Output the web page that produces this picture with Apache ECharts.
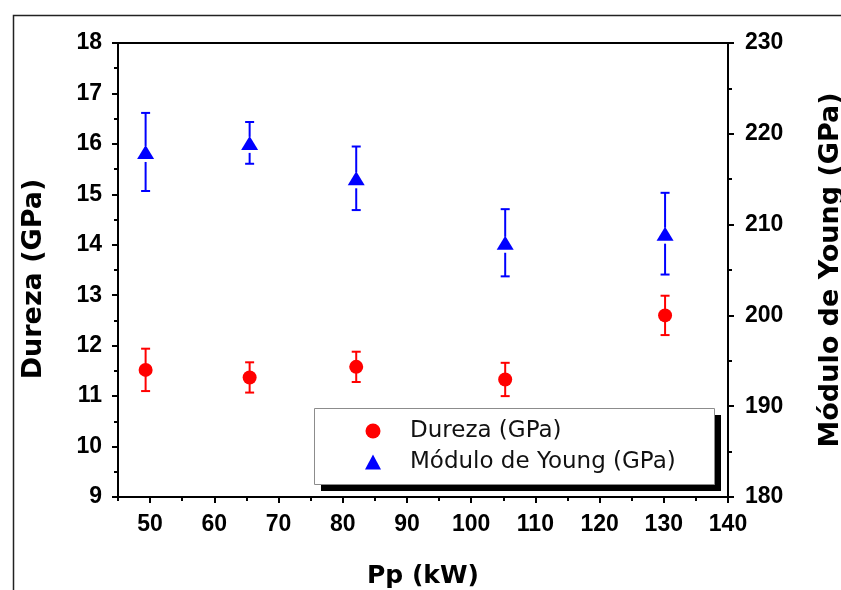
<!DOCTYPE html>
<html>
<head>
<meta charset="utf-8">
<script src="https://cdn.jsdelivr.net/npm/echarts@6/dist/echarts.min.js"></script>
<style>
html,body{margin:0;padding:0;background:#fff;}
#chart{width:841px;height:590px;}
</style>
</head>
<body>
<div id="chart"></div>
<script>
// ---- data ----
var pp = [49.3, 65.5, 82.1, 105.3, 130.2];
var dureza = [11.52, 11.37, 11.58, 11.33, 12.60];
var durezaErr = [0.42, 0.30, 0.30, 0.33, 0.39];
var young = [218.0, 219.0, 215.1, 208.0, 209.0];
var youngErr = [4.3, 2.3, 3.5, 3.7, 4.5];
var xMajorTicks = [50, 60, 70, 80, 90, 100, 110, 120, 130, 140];
var xMinorTicks = [45, 55, 65, 75, 85, 95, 105, 115, 125, 135];
var durezaName = 'Dureza (GPa)';
var youngName = 'Módulo de Young (GPa)';
var xTitle = 'Pp (kW)';

// ---- build ----
function pairs(xs, ys) { return xs.map(function (x, i) { return [x, ys[i]]; }); }
function triples(xs, ys, es) { return xs.map(function (x, i) { return [x, ys[i], es[i]]; }); }

function errorRender(color, gapTop, gapBot) {
  return function (params, api) {
    var x = api.value(0), v = api.value(1), e = api.value(2);
    var t = api.coord([x, v + e]);
    var b = api.coord([x, v - e]);
    var c = api.coord([x, v]);
    var hw = 4.5;
    var st = { stroke: color, lineWidth: 2 };
    return {
      type: 'group',
      children: [
        { type: 'line', shape: { x1: t[0] - hw, y1: t[1], x2: t[0] + hw, y2: t[1] }, style: st },
        { type: 'line', shape: { x1: b[0] - hw, y1: b[1], x2: b[0] + hw, y2: b[1] }, style: st },
        { type: 'line', shape: { x1: t[0], y1: t[1], x2: t[0], y2: c[1] - gapTop }, style: st },
        { type: 'line', shape: { x1: b[0], y1: c[1] + gapBot, x2: b[0], y2: b[1] }, style: st }
      ]
    };
  };
}

var tickFont = { fontFamily: 'Arial', fontWeight: 'bold', fontSize: 23, color: '#000' };

var chart = echarts.init(document.getElementById('chart'), null, { renderer: 'canvas' });
chart.setOption({
  animation: false,
  backgroundColor: '#fff',
  grid: {
    left: 118, top: 43, right: 113, bottom: 93,
    show: true, borderColor: '#000', borderWidth: 2, backgroundColor: 'transparent'
  },
  xAxis: [
    {
      type: 'value', min: 45, max: 140, position: 'bottom',
      axisLine: { show: true, lineStyle: { color: '#000', width: 2 } },
      axisTick: { show: true, length: 6, lineStyle: { color: '#000', width: 2 }, customValues: xMajorTicks },
      axisLabel: Object.assign({ margin: 16, customValues: xMajorTicks }, tickFont),
      splitLine: { show: false }
    },
    {
      type: 'value', min: 45, max: 140, position: 'bottom',
      axisLine: { show: false },
      axisTick: { show: true, length: 4, lineStyle: { color: '#000', width: 2 }, customValues: xMinorTicks },
      axisLabel: { show: false },
      splitLine: { show: false }
    }
  ],
  yAxis: [
    {
      type: 'value', min: 9, max: 18, interval: 1, position: 'left',
      axisLine: { show: true, lineStyle: { color: '#000', width: 2 } },
      axisTick: { show: true, length: 6, lineStyle: { color: '#000', width: 2 } },
      minorTick: { show: true, splitNumber: 2, length: 4, lineStyle: { color: '#000', width: 2 } },
      axisLabel: Object.assign({ margin: 16 }, tickFont),
      splitLine: { show: false }
    },
    {
      type: 'value', min: 180, max: 230, interval: 10, position: 'right',
      axisLine: { show: true, lineStyle: { color: '#000', width: 2 } },
      axisTick: { show: true, length: 6, lineStyle: { color: '#000', width: 2 } },
      minorTick: { show: true, splitNumber: 2, length: 4, lineStyle: { color: '#000', width: 2 } },
      axisLabel: Object.assign({ margin: 17 }, tickFont),
      splitLine: { show: false }
    }
  ],
  legend: {
    orient: 'vertical',
    left: 314, top: 408,
    padding: [11, 30, 10, 51],
    itemGap: 7,
    itemWidth: 16, itemHeight: 15,
    textStyle: { fontFamily: 'DejaVu Sans', fontSize: 23, color: '#111', lineHeight: 24, padding: [0, 0, 0, 24] },
    data: [
      { name: durezaName, icon: 'circle' },
      { name: youngName, icon: 'triangle' }
    ],
    z: 20
  },
  series: [
    {
      type: 'custom', name: 'durezaErr', xAxisIndex: 0, yAxisIndex: 0,
      data: triples(pp, dureza, durezaErr),
      encode: { x: 0, y: 1 },
      renderItem: errorRender('#ff0000', 0, 0), z: 2
    },
    {
      type: 'custom', name: 'youngErr', xAxisIndex: 0, yAxisIndex: 1,
      data: triples(pp, young, youngErr),
      encode: { x: 0, y: 1 },
      renderItem: errorRender('#0000ff', 6, 10), z: 2
    },
    {
      type: 'scatter', name: durezaName, xAxisIndex: 0, yAxisIndex: 0,
      data: pairs(pp, dureza),
      symbol: 'circle', symbolSize: 14,
      itemStyle: { color: '#ff0000', opacity: 1 }, z: 5
    },
    {
      type: 'scatter', name: youngName, xAxisIndex: 0, yAxisIndex: 1,
      data: pairs(pp, young),
      symbol: 'triangle', symbolSize: [17, 14],
      itemStyle: { color: '#0000ff', opacity: 1 }, z: 5
    }
  ],
  graphic: [
    {
      type: 'rect', left: 11, top: 13, z: -10, silent: true,
      shape: { width: 900, height: 700 },
      style: { fill: null, stroke: '#222', lineWidth: 1.5 }
    },
    {
      type: 'rect', left: 321, top: 415, z: 10, silent: true,
      shape: { width: 400, height: 76 },
      style: { fill: '#000' }
    },
    {
      type: 'rect', left: 314, top: 408, z: 11, silent: true,
      shape: { width: 400, height: 76 },
      style: { fill: '#fff', stroke: '#8c8c8c', lineWidth: 1 }
    },
    {
      type: 'text', x: 34, y: 279, rotation: Math.PI / 2,
      style: { text: durezaName, fontFamily: 'DejaVu Sans', fontWeight: 'bold', fontSize: 27, fill: '#000', textAlign: 'center', textVerticalAlign: 'middle' }
    },
    {
      type: 'text', x: 831, y: 270, rotation: Math.PI / 2,
      style: { text: youngName, fontFamily: 'DejaVu Sans', fontWeight: 'bold', fontSize: 27, fill: '#000', textAlign: 'center', textVerticalAlign: 'middle' }
    },
    {
      type: 'text', x: 423, y: 576,
      style: { text: xTitle, fontFamily: 'DejaVu Sans', fontWeight: 'bold', fontSize: 25, fill: '#000', textAlign: 'center', textVerticalAlign: 'middle' }
    }
  ]
});
</script>
</body>
</html>
